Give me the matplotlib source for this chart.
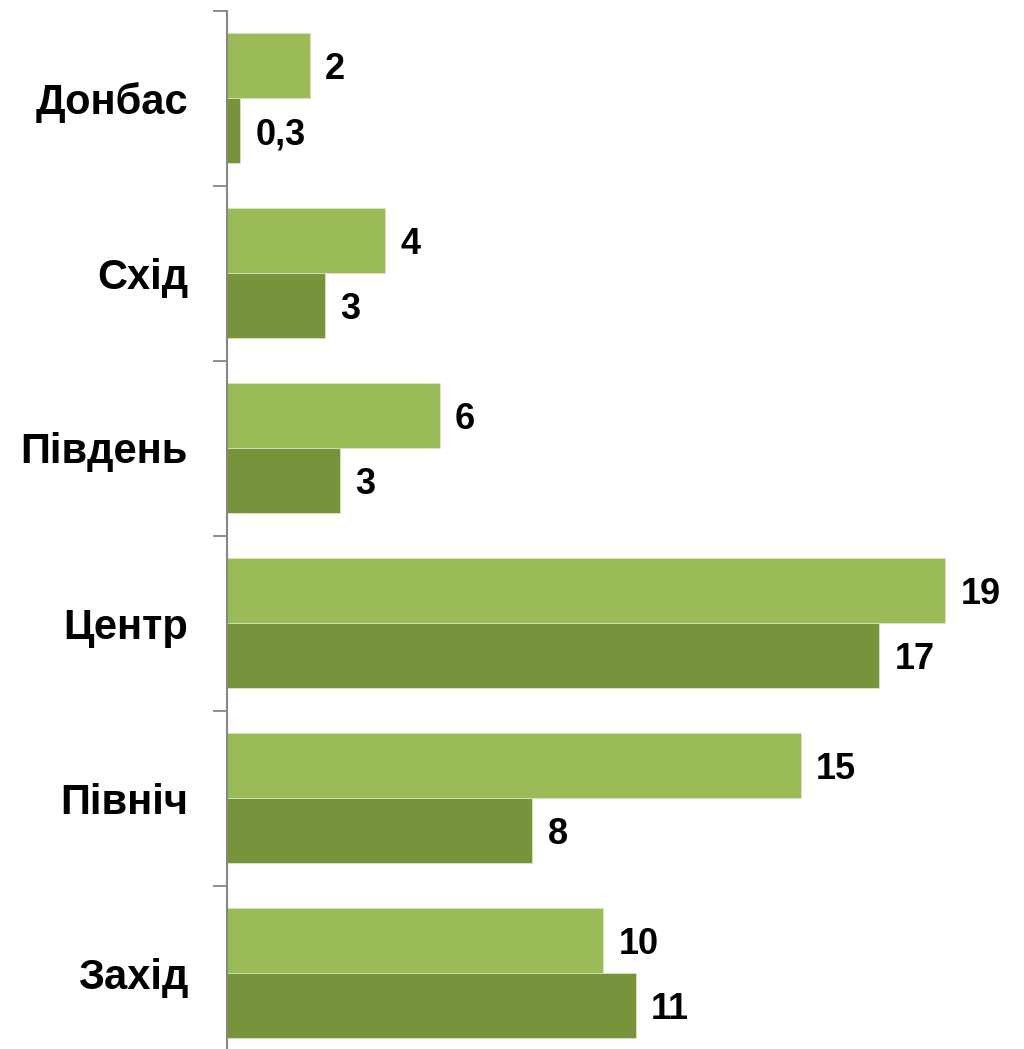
import numpy as np
import matplotlib.pyplot as plt

regions = ['Донбас', 'Схід', 'Південь', 'Центр', 'Північ', 'Захід']
series_a = [2.18, 4.16, 5.6, 18.9, 15.1, 9.9]
series_b = [0.34, 2.58, 2.97, 17.16, 8.03, 10.76]
labels_a = ['2', '4', '6', '19', '15', '10']
labels_b = ['0,3', '3', '3', '17', '8', '11']

color_a = '#9BBB59'
color_b = '#77933C'

plt.rcParams['font.family'] = ['Liberation Sans', 'DejaVu Sans']
plt.rcParams['font.weight'] = 'bold'

fig = plt.figure(figsize=(10.24, 10.49), dpi=100)
ax = fig.add_axes([227 / 1024, 1 - 1060.5 / 1049, 760 / 1024, 1050 / 1049])

y = np.arange(len(regions))
h = 0.371
bars_a = ax.barh(y - h / 2, series_a, height=h, color=color_a,
                 edgecolor='#d8e6bd', linewidth=0.6)
bars_b = ax.barh(y + h / 2, series_b, height=h, color=color_b,
                 edgecolor='#d8e6bd', linewidth=0.6)

for bars, labs in [(bars_a, labels_a), (bars_b, labels_b)]:
    for b, lab in zip(bars, labs):
        ax.annotate(lab, (b.get_width(), b.get_y() + b.get_height() / 2),
                    xytext=(11, -3), textcoords='offset points',
                    ha='left', va='center', fontsize=26, fontweight='bold')

ax.set_xlim(0, 20)
ax.set_ylim(len(regions) - 0.5, -0.5)

ax.set_yticks(y)
ax.set_yticklabels(regions, fontsize=30, fontweight='bold')
ax.tick_params(axis='y', which='major', length=0, pad=28)
ax.set_yticks(np.arange(-0.5, len(regions)), minor=True)
ax.tick_params(axis='y', which='minor', length=10, width=1.3, color='#868686')
ax.set_xticks([])

for s in ['top', 'right', 'bottom']:
    ax.spines[s].set_visible(False)
ax.spines['left'].set_color('#868686')
ax.spines['left'].set_linewidth(1.5)

fig.savefig('out.png', dpi=100)
